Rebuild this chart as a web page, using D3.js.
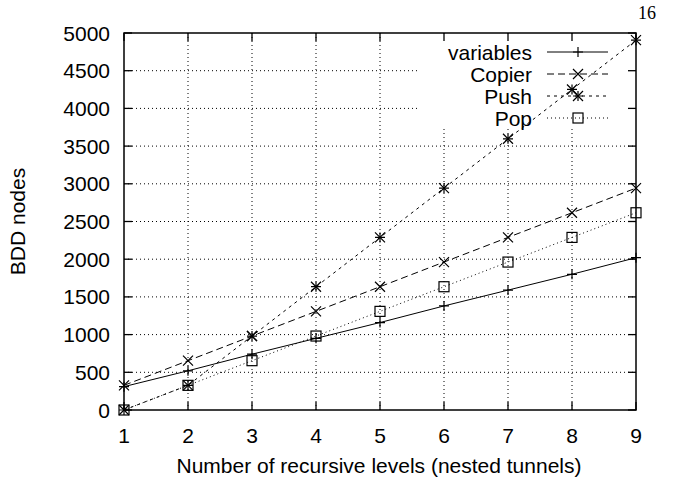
<!DOCTYPE html>
<html>
<head>
<meta charset="utf-8">
<script src="https://cdn.jsdelivr.net/npm/d3@7"></script>
<style>
  body { margin: 0; background: #fff; }
  text { font-family: "Liberation Sans", Arial, sans-serif; }
</style>
</head>
<body>
<svg id="svg" width="678" height="481"></svg>
<script>
// chart data
const levels = [1, 2, 3, 4, 5, 6, 7, 8, 9];
const variables = [310, 520, 740, 950, 1160, 1380, 1590, 1800, 2020];
const copier = [327, 654, 981, 1308, 1635, 1962, 2289, 2616, 2943];
const push = [0, 327, 981, 1635, 2289, 2943, 3597, 4251, 4905];
const pop = [0, 327, 654, 981, 1308, 1635, 1962, 2289, 2616];
const yTicks = [0, 500, 1000, 1500, 2000, 2500, 3000, 3500, 4000, 4500, 5000];
const seriesNames = ["variables", "Copier", "Push", "Pop"];

var svg = d3.select("#svg");

// plot box (note: "top" is taken by window.top)
var pLeft = 124, pRight = 636, pTop = 33, pBottom = 410;
var fs = 21;

var x = d3.scaleLinear().domain([1, 9]).range([pLeft, pRight]);
var y = d3.scaleLinear().domain([0, 5000]).range([pBottom, pTop]);

// grid lines (dotted)
var grid = svg.append("g").attr("stroke", "#000").attr("stroke-width", 1)
    .attr("stroke-dasharray", "1,3");
levels.slice(1, -1).forEach(function(v) {
    grid.append("line").attr("x1", x(v)).attr("x2", x(v))
        .attr("y1", pBottom).attr("y2", pTop);
});
yTicks.slice(1, -1).forEach(function(v) {
    grid.append("line").attr("x1", pLeft).attr("x2", pRight)
        .attr("y1", y(v)).attr("y2", y(v));
});

// legend area hides the grid behind it
svg.append("rect").attr("x", 418).attr("y", pTop + 1)
    .attr("width", pRight - 418 - 1).attr("height", 95).attr("fill", "#fff");

// ticks pointing in, on all four sides
var tickLen = 8;
var ticks = svg.append("g").attr("stroke", "#000").attr("stroke-width", 1.3);
levels.forEach(function(v) {
    ticks.append("line").attr("x1", x(v)).attr("x2", x(v)).attr("y1", pBottom).attr("y2", pBottom - tickLen);
    ticks.append("line").attr("x1", x(v)).attr("x2", x(v)).attr("y1", pTop).attr("y2", pTop + tickLen);
});
yTicks.forEach(function(v) {
    ticks.append("line").attr("x1", pLeft).attr("x2", pLeft + tickLen).attr("y1", y(v)).attr("y2", y(v));
    ticks.append("line").attr("x1", pRight).attr("x2", pRight - tickLen).attr("y1", y(v)).attr("y2", y(v));
});

// tick labels
svg.append("g").selectAll("text").data(levels).join("text")
    .attr("x", d => x(d)).attr("y", pBottom + 33)
    .attr("text-anchor", "middle").attr("font-size", fs).text(d => d);
svg.append("g").selectAll("text").data(yTicks).join("text")
    .attr("x", pLeft - 14).attr("y", d => y(d) + 7.5)
    .attr("text-anchor", "end").attr("font-size", fs).text(d => d);

// axis titles
svg.append("text").attr("x", (pLeft + pRight) / 2 - 1).attr("y", 473)
    .attr("text-anchor", "middle").attr("font-size", fs)
    .text("Number of recursive levels (nested tunnels)");
svg.append("text").attr("transform", "translate(25," + ((pTop + pBottom) / 2) + ") rotate(-90)")
    .attr("text-anchor", "middle").attr("font-size", fs).text("BDD nodes");

// page number (serif, style beats the css rule above)
svg.append("text").attr("x", 638).attr("y", 19)
    .style("font-family", "'Liberation Serif', 'Times New Roman', serif")
    .attr("font-size", 18).text("16");

// markers
var ms = 5;
function plus(g, cx, cy) {
    g.append("path").attr("d", `M${cx - ms},${cy}H${cx + ms}M${cx},${cy - ms}V${cy + ms}`);
}
function cross(g, cx, cy) {
    g.append("path").attr("d", `M${cx - ms},${cy - ms}L${cx + ms},${cy + ms}M${cx - ms},${cy + ms}L${cx + ms},${cy - ms}`);
}
function star(g, cx, cy) { plus(g, cx, cy); cross(g, cx, cy); }
function square(g, cx, cy) {
    g.append("rect").attr("x", cx - ms).attr("y", cy - ms).attr("width", 2 * ms).attr("height", 2 * ms)
        .attr("fill", "none");
}

var series = [
    { name: seriesNames[0], values: variables, dash: null, mark: plus },
    { name: seriesNames[1], values: copier, dash: "7,4", mark: cross },
    { name: seriesNames[2], values: push, dash: "3,4", mark: star },
    { name: seriesNames[3], values: pop, dash: "1,3", mark: square }
];

var line = d3.line().x(d => x(d[0])).y(d => y(d[1]));

series.forEach(function(s, i) {
    var pts = levels.map((l, j) => [l, s.values[j]]);
    svg.append("path").attr("d", line(pts)).attr("fill", "none")
        .attr("stroke", "#000").attr("stroke-width", 1)
        .attr("stroke-dasharray", s.dash);
    var g = svg.append("g").attr("stroke", "#000").attr("stroke-width", 1.2).attr("fill", "none");
    pts.forEach(p => s.mark(g, x(p[0]), y(p[1])));

    // legend entry
    var ly = 52 + i * 22;
    svg.append("text").attr("x", 532).attr("y", ly + 7.5).attr("text-anchor", "end")
        .attr("font-size", fs).text(s.name);
    svg.append("line").attr("x1", 547).attr("x2", 608).attr("y1", ly).attr("y2", ly)
        .attr("stroke", "#000").attr("stroke-width", 1).attr("stroke-dasharray", s.dash);
    var lg = svg.append("g").attr("stroke", "#000").attr("stroke-width", 1.2).attr("fill", "none");
    s.mark(lg, 578, ly);
});

// frame
svg.append("rect").attr("x", pLeft).attr("y", pTop).attr("width", pRight - pLeft).attr("height", pBottom - pTop)
    .attr("fill", "none").attr("stroke", "#000").attr("stroke-width", 1.5);
</script>
</body>
</html>
